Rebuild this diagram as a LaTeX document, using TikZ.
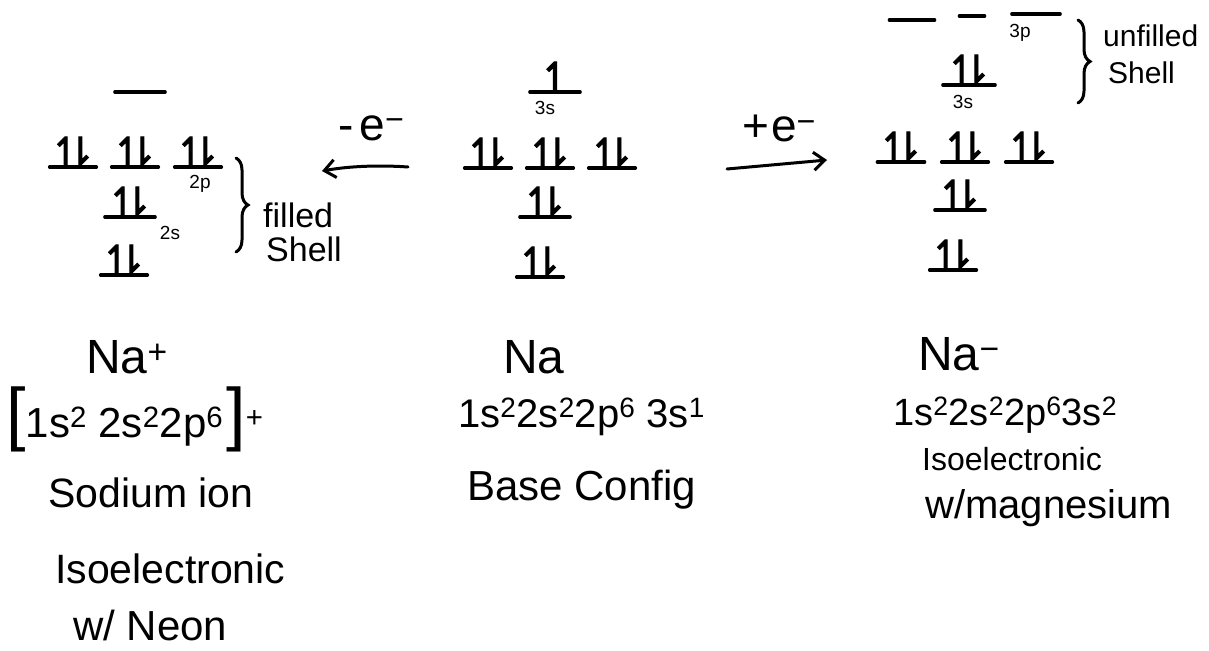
\documentclass[tikz,border=0pt]{standalone}
\usepackage{fontspec}
\setmainfont{Liberation Sans}
\newfontfamily\harpfont{DejaVu Sans}[FakeBold=2.5]
\usetikzlibrary{arrows.meta,decorations.pathreplacing}
\newcommand{\pairud}{↿\kern-0.45em⇂}
\newcommand{\singleu}{↿}
\tikzset{
  fs/.style={font=\fontsize{#1}{#1}\selectfont},
  orb/.style={anchor=south, inner xsep=0pt, inner ysep=2pt, minimum width=#1,
    font=\harpfont\fontsize{38}{38}\selectfont,
    append after command={(\tikzlastnode.south west) edge[line width=3.2pt, line cap=round] (\tikzlastnode.south east)}},
  sub/.style={fs=19, inner sep=0pt},
  hand/.style={inner sep=0pt, anchor=base},
  handw/.style={inner sep=0pt, anchor=base west},
  bracebar/.style={line width=3pt, line cap=round, decorate, decoration={brace, amplitude=12pt}},
  earrow/.style={line width=3pt, line cap=round, -{Straight Barb[length=11pt,width=18pt,line width=3pt]}},
}
\begin{document}
\begin{tikzpicture}[x=1pt,y=-1pt]
\useasboundingbox[fill=white] (0,0) rectangle (1209,650);

% ---------- Na+ orbitals ----------
\node[orb=50pt] (l3s) at (140,92) {};
\node[orb=43pt] (l2pa) at (73,167) {\pairud};
\node[orb=35pt] (l2pb) at (135,167) {\pairud};
\node[orb=43pt] (l2pc) at (198,167) {\pairud};
\node[sub] (l2plab) at (200,184) {2p};
\node[orb=50pt] (l2s) at (130,217) {\pairud};
\node[sub] (l2slab) at (170,233) {2s};
\node[orb=45pt] (l1s) at (124,275) {\pairud};
\coordinate (lbt) at (236,158);
\coordinate (lbb) at (236,252);
\draw[bracebar] (lbt) -- (lbb);
\node[handw, fs=34] (filled) at (263,227) {filled};
\node[handw, fs=34] (shella) at (266,261) {Shell};

% ---------- -e arrow ----------
\node[handw, fs=46] (mine) at (338,140) {-\kern6pt e\textsuperscript{−}};
\coordinate (la1) at (408,167);
\coordinate (la2) at (322,171);
\draw[earrow] (la1) .. controls (380,165) and (350,166) .. (la2);

% ---------- Na orbitals ----------
\node[orb=50pt] (m3s) at (555,92) {\singleu};
\node[sub] (m3slab) at (545,108) {3s};
\node[orb=43pt] (m2pa) at (488,168) {\pairud};
\node[orb=35pt] (m2pb) at (550,168) {\pairud};
\node[orb=41pt] (m2pc) at (612,168) {\pairud};
\node[orb=50pt] (m2s) at (545,217) {\pairud};
\node[orb=45pt] (m1s) at (540,277) {\pairud};

% ---------- +e arrow ----------
\node[handw, fs=46] (plue) at (742,142) {+\kern2pt e\textsuperscript{−}};
\coordinate (ra1) at (727,169);
\coordinate (ra2) at (827,160);
\draw[earrow] (ra1) -- (ra2);

% ---------- Na- orbitals ----------
\node[orb=45pt] (r3pa) at (912,20) {};
\node[orb=25pt] (r3pb) at (972,16) {};
\node[orb=48pt] (r3pc) at (1036,14) {};
\node[sub] (r3plab) at (1020,33) {3p};
\node[orb=52pt] (r3s) at (969,85) {\pairud};
\node[sub] (r3slab) at (963,102) {3s};
\node[orb=47pt] (r2pa) at (901,162) {\pairud};
\node[orb=34pt] (r2pb) at (965,162) {\pairud};
\node[orb=45pt] (r2pc) at (1029,162) {\pairud};
\node[orb=50pt] (r2s) at (960,210) {\pairud};
\node[orb=43pt] (r1s) at (953,270) {\pairud};
\coordinate (rbt) at (1078,20);
\coordinate (rbb) at (1078,103);
\draw[bracebar] (rbt) -- (rbb);
\node[handw, fs=30] (unfilled) at (1103,47) {unfilled};
\node[handw, fs=30] (shellb) at (1108,84) {Shell};

% ---------- bottom texts: Na+ ----------
\node[handw, fs=48] (naplus) at (86,373) {Na\textsuperscript{+}};
\node[handw, fs=42] (confplus) at (6,437) {{\fontsize{70}{70}\selectfont[}1s\textsuperscript{2} 2s\textsuperscript{2}2p\textsuperscript{6}\kern3pt{\fontsize{70}{70}\selectfont]}\textsuperscript{+}};
\node[handw, fs=41] (sodium) at (48,507) {Sodium ion};
\node[handw, fs=41] (isol) at (55,583) {Isoelectronic};
\node[handw, fs=42] (neon) at (73,640) {w/ Neon};

% ---------- Na ----------
\node[handw, fs=48] (na) at (503,373) {Na};
\node[handw, fs=40] (confna) at (458,427) {1s\textsuperscript{2}2s\textsuperscript{2}2p\textsuperscript{6} 3s\textsuperscript{1}};
\node[handw, fs=42] (base) at (467,500) {Base Config};

% ---------- Na- ----------
\node[handw, fs=48] (naminus) at (918,370) {Na\textsuperscript{−}};
\node[handw, fs=38] (confminus) at (893,425) {1s\textsuperscript{2}2s\textsuperscript{2}2p\textsuperscript{6}3s\textsuperscript{2}};
\node[handw, fs=32] (isor) at (922,470) {Isoelectronic};
\node[handw, fs=40] (magn) at (925,518) {w/magnesium};
\end{tikzpicture}
\end{document}
